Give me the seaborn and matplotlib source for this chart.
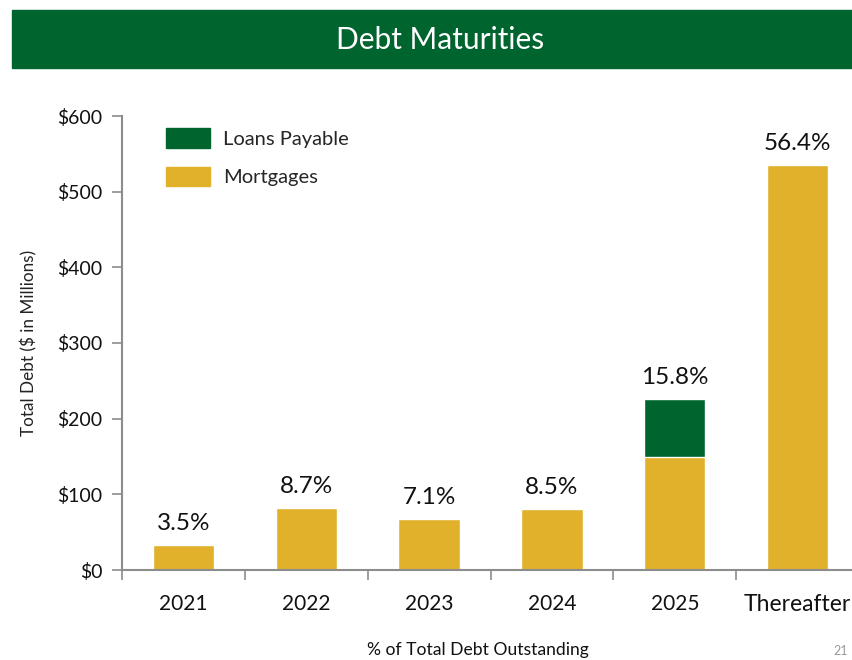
import matplotlib
matplotlib.use("Agg")
import matplotlib.pyplot as plt
import seaborn as sns
import pandas as pd
from matplotlib.patches import Patch, Rectangle

categories = ["2021", "2022", "2023", "2024", "2025", "Thereafter"]
mortgages = [33, 82, 67, 81, 150, 535]
loans_payable = [0, 0, 0, 0, 76, 0]
pct_labels = ["3.5%", "8.7%", "7.1%", "8.5%", "15.8%", "56.4%"]
y_ticks = [0, 100, 200, 300, 400, 500, 600]

GOLD = "#E1B12C"
GREEN = "#00642F"
GRAY = "#8C8C8C"

sns.set_theme(style="white")
plt.rcParams["font.family"] = ["Lato", "DejaVu Sans"]

df = pd.DataFrame({
    "category": categories,
    "mortgages": mortgages,
    "total": [m + l for m, l in zip(mortgages, loans_payable)],
})

fig = plt.figure(figsize=(8.53, 6.60), dpi=100)
# title band
fig.patches.append(Rectangle((12 / 853, 1 - 68 / 660), 1, 58 / 660,
                             transform=fig.transFigure, color=GREEN, zorder=0))
fig.text(440 / 853, 1 - 40 / 660, "Debt Maturities", color="white", fontsize=21.5,
         ha="center", va="center")

ax = fig.add_axes([122 / 853, 1 - 570 / 660, 737 / 853, 454 / 660])
sns.barplot(data=df, x="category", y="total", color=GREEN, width=0.5,
            saturation=1, ax=ax)
sns.barplot(data=df, x="category", y="mortgages", color=GOLD, width=0.5,
            saturation=1, ax=ax)

ax.set_xlim(-0.5, 5.5)
ax.set_ylim(0, 600)
ax.set_yticks(y_ticks)
ax.set_yticklabels([f"${v}" for v in y_ticks], fontsize=14, color="#111111")
ax.tick_params(axis="y", direction="out", length=7, width=1.2, color=GRAY, pad=7, left=True)
ax.set_xticks(range(len(categories)))
ax.set_xticklabels(categories, fontsize=15, color="#111111")
ax.tick_params(axis="x", which="major", length=0, pad=17)
ax.set_xticks([i - 0.5 for i in range(len(categories) + 1)], minor=True)
ax.tick_params(axis="x", which="minor", direction="out", length=7, width=1.2,
               color=GRAY, bottom=True)
for lbl in ax.get_xticklabels():
    if lbl.get_text() == "Thereafter":
        lbl.set_fontsize(16.5)

for s in ["top", "right"]:
    ax.spines[s].set_visible(False)
for s in ["left", "bottom"]:
    ax.spines[s].set_color(GRAY)
    ax.spines[s].set_linewidth(1.5)

ax.set_xlabel("")
ax.set_ylabel("Total Debt ($ in Millions)", fontsize=12.3, color="#222222", labelpad=14)

for i, (t, lab) in enumerate(zip(df["total"], pct_labels)):
    ax.annotate(lab, (i, t), xytext=(0, 8), textcoords="offset points",
                ha="center", va="bottom", fontsize=17.5, color="#111111")

handles = [Patch(color=GREEN, label="Loans Payable"), Patch(color=GOLD, label="Mortgages")]
leg = ax.legend(handles=handles, loc="upper left", bbox_to_anchor=(0.035, 1.013),
                frameon=False, fontsize=14.5, handlelength=2.2, handleheight=1.1,
                labelspacing=0.95, handletextpad=0.65)

fig.text(478 / 853, 1 - 650 / 660, "% of Total Debt Outstanding", fontsize=12.6,
         ha="center", va="center", color="#111111")
fig.text(848 / 853, 1 - 651 / 660, "21", fontsize=9, color="#999999", ha="right", va="center")

fig.savefig("out.png", dpi=100)
